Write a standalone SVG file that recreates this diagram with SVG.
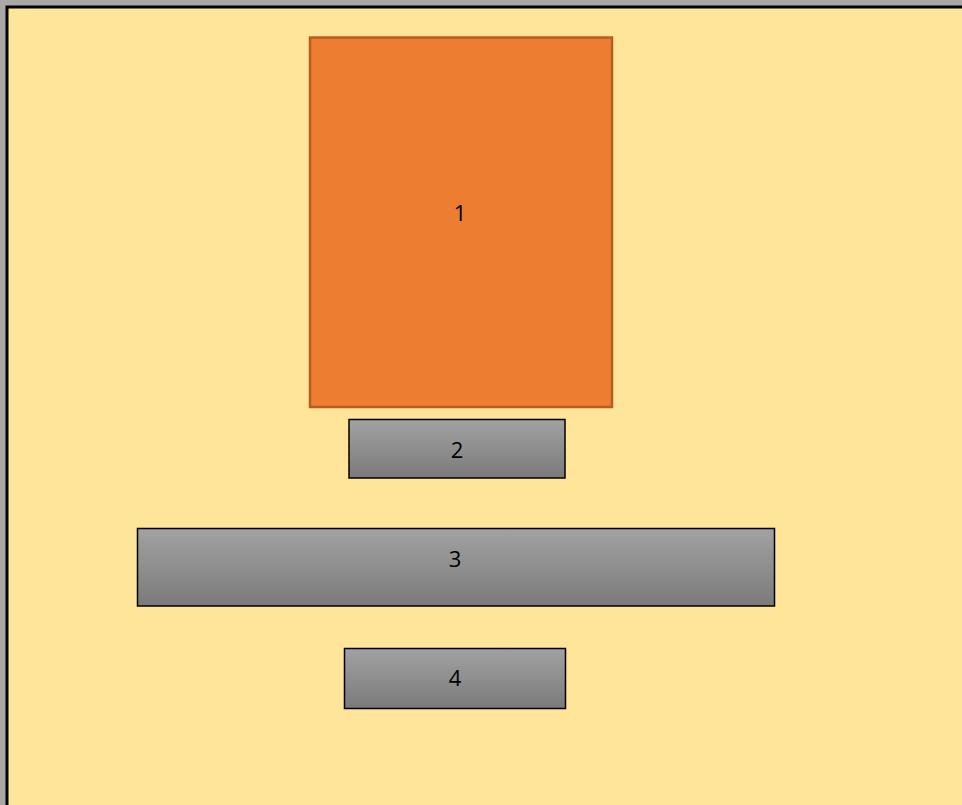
<svg xmlns="http://www.w3.org/2000/svg" width="962" height="805" viewBox="0 0 962 805">
<defs>
<linearGradient id="g" x1="0" y1="0" x2="0" y2="1">
<stop offset="0" stop-color="#a2a2a2"/>
<stop offset="1" stop-color="#7a7a7a"/>
</linearGradient>
<style>
.bar{fill:url(#g);stroke:#000;stroke-width:1.5}
.lbl{font-family:"Open Sans","Liberation Sans",sans-serif;font-size:22px;fill:#000;text-anchor:middle;dominant-baseline:central}
</style>
</defs>
<rect x="0" y="0" width="962" height="805" fill="#aaa7a7"/>
<rect x="7" y="7" width="962" height="805" fill="#ffe599" stroke="#000" stroke-width="3"/>
<g id="connectors"/>
<g id="node1">
<rect x="310" y="37.5" width="302" height="369.5" fill="#ed7d31" stroke="#b85d1f" stroke-width="2.5"/>
<text class="lbl" x="460" y="212">1</text>
</g>
<g id="node2">
<rect class="bar" x="349" y="419.5" width="216" height="58.5"/>
<text class="lbl" x="457" y="449">2</text>
</g>
<g id="node3">
<rect class="bar" x="137.5" y="528.5" width="637" height="77.5"/>
<text class="lbl" x="455" y="558">3</text>
</g>
<g id="node4">
<rect class="bar" x="344.5" y="648.5" width="221" height="60"/>
<text class="lbl" x="455" y="677">4</text>
</g>
</svg>
